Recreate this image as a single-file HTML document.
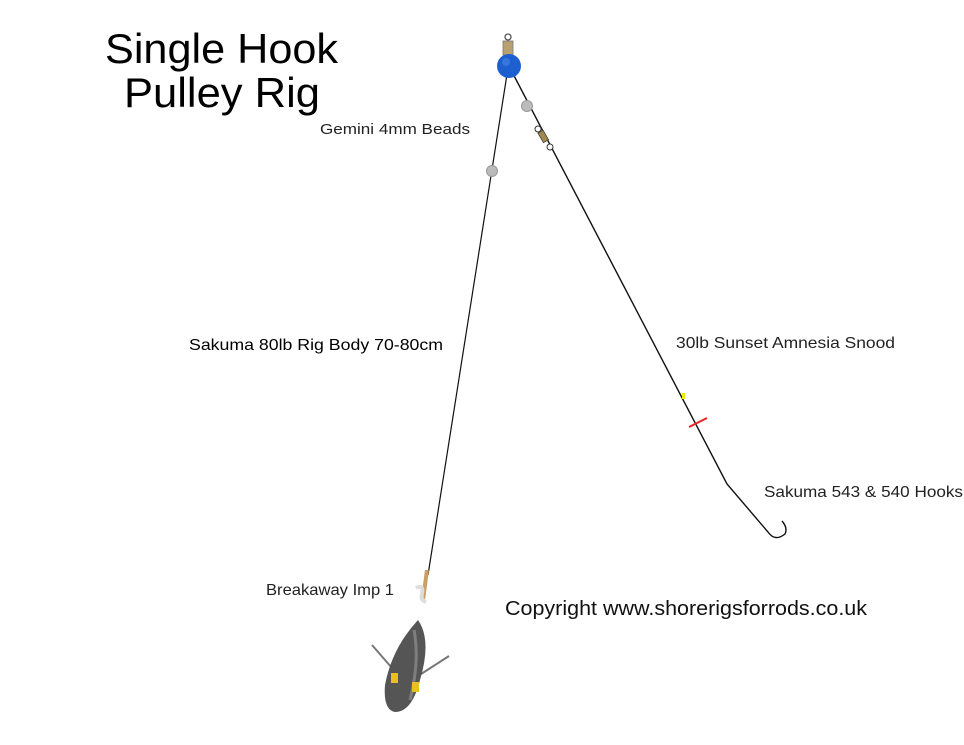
<!DOCTYPE html>
<html><head><meta charset="utf-8"><style>
html,body{margin:0;padding:0;background:#fff;}
svg{display:block;font-family:"Liberation Sans",Arial,sans-serif;}
</style></head><body>
<svg width="964" height="745" viewBox="0 0 964 745" xmlns="http://www.w3.org/2000/svg">
<rect width="964" height="745" fill="#fff"/>
<text x="105" y="63" font-size="42" textLength="233" lengthAdjust="spacingAndGlyphs" fill="#000">Single Hook</text>
<text x="124" y="107" font-size="42" textLength="196" lengthAdjust="spacingAndGlyphs" fill="#000">Pulley Rig</text>
<text x="320" y="134" font-size="15" textLength="150" lengthAdjust="spacingAndGlyphs" fill="#222">Gemini 4mm Beads</text>
<text x="189" y="350" font-size="16" textLength="254" lengthAdjust="spacingAndGlyphs" fill="#000">Sakuma 80lb Rig Body 70-80cm</text>
<text x="676" y="348" font-size="16" textLength="219" lengthAdjust="spacingAndGlyphs" fill="#222">30lb Sunset Amnesia Snood</text>
<text x="764" y="497" font-size="16" textLength="199" lengthAdjust="spacingAndGlyphs" fill="#222">Sakuma 543 &amp; 540 Hooks</text>
<text x="266" y="595" font-size="16" textLength="128" lengthAdjust="spacingAndGlyphs" fill="#222">Breakaway Imp 1</text>
<text x="505" y="615" font-size="20" textLength="362" lengthAdjust="spacingAndGlyphs" fill="#111">Copyright www.shorerigsforrods.co.uk</text>
<!-- lines -->
<line x1="508" y1="68" x2="428" y2="575" stroke="#111" stroke-width="1.2"/>
<path d="M510 68 L727 484 L768 532 Q775 542 785 534 Q788 528 782 521" fill="none" stroke="#111" stroke-width="1.4"/>
<!-- swivel top -->
<circle cx="508" cy="37" r="3" fill="none" stroke="#555" stroke-width="1.3"/>
<rect x="503" y="41" width="10" height="14" fill="#b8a070" stroke="#777" stroke-width="0.8"/>
<circle cx="509" cy="66" r="12" fill="#1e5fd0"/>
<circle cx="506" cy="62" r="4" fill="#4a86e8" opacity="0.6"/>
<!-- beads -->
<circle cx="527" cy="106" r="5.5" fill="#bbb" stroke="#999"/>
<circle cx="492" cy="171" r="5.5" fill="#bbb" stroke="#999"/>
<!-- snood swivel -->
<circle cx="538" cy="129" r="3" fill="#fff" stroke="#333"/>
<rect x="540" y="131" width="6" height="11" transform="rotate(-30 543 136)" fill="#a08850" stroke="#333" stroke-width="0.7"/>
<circle cx="550" cy="147" r="3" fill="#fff" stroke="#333"/>
<!-- stops -->
<rect x="682" y="393" width="3" height="6" fill="#ee0"/>
<line x1="689" y1="427" x2="707" y2="418" stroke="#e22" stroke-width="2"/>
<!-- lead weight -->
<path d="M427 570 L423 600" stroke="#c9a060" stroke-width="4"/>
<path d="M416 588 q8 -4 6 6 q-2 6 4 8" fill="none" stroke="#ddd" stroke-width="4"/>
<line x1="372" y1="645" x2="392" y2="668" stroke="#777" stroke-width="2"/>
<line x1="449" y1="656" x2="418" y2="676" stroke="#777" stroke-width="2"/>
<path d="M418 620 Q432 640 420 680 Q412 712 395 712 Q383 710 385 685 Q392 648 418 620 Z" fill="#555"/>
<path d="M414 630 Q420 660 410 700" fill="none" stroke="#999" stroke-width="3" opacity="0.6"/>
<rect x="391" y="673" width="7" height="10" fill="#e8c020"/>
<rect x="412" y="682" width="7" height="10" fill="#e8c020"/>
</svg>
</body></html>
